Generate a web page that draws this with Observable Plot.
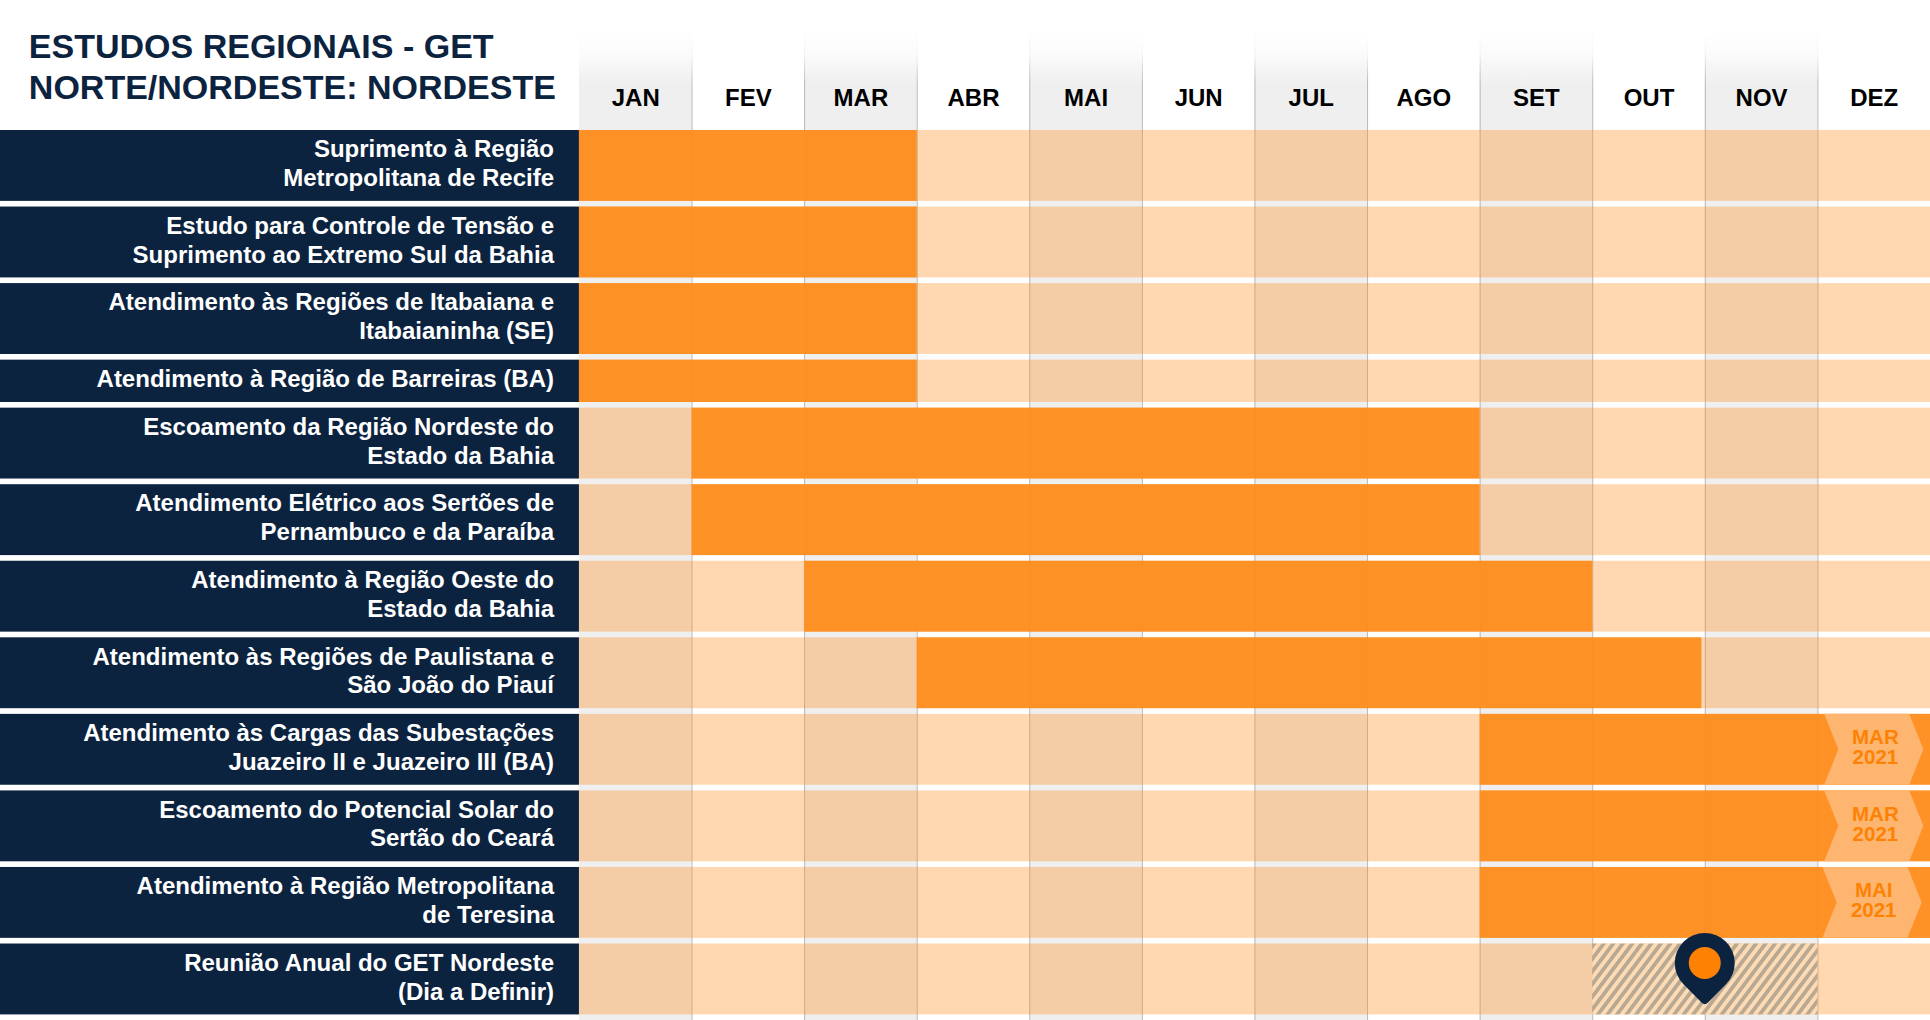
<!DOCTYPE html>
<html lang="pt-BR">
<head>
<meta charset="utf-8">
<title>Estudos Regionais - GET Norte/Nordeste: Nordeste</title>
<style>
html,body{margin:0;padding:0;background:#fff;overflow:hidden}
svg{display:block}
</style>
<script src="https://cdn.jsdelivr.net/npm/d3@7"></script>
<script src="https://cdn.jsdelivr.net/npm/@observablehq/plot@0.6"></script>
</head>
<body>
<div id="chart"></div>
<script>
const titleLines = "ESTUDOS REGIONAIS - GET\nNORTE/NORDESTE: NORDESTE";
const months = ["JAN","FEV","MAR","ABR","MAI","JUN","JUL","AGO","SET","OUT","NOV","DEZ"];
const rowLabels = [
  "Suprimento à Região\nMetropolitana de Recife",
  "Estudo para Controle de Tensão e\nSuprimento ao Extremo Sul da Bahia",
  "Atendimento às Regiões de Itabaiana e\nItabaianinha (SE)",
  "Atendimento à Região de Barreiras (BA)",
  "Escoamento da Região Nordeste do\nEstado da Bahia",
  "Atendimento Elétrico aos Sertões de\nPernambuco e da Paraíba",
  "Atendimento à Região Oeste do\nEstado da Bahia",
  "Atendimento às Regiões de Paulistana e\nSão João do Piauí",
  "Atendimento às Cargas das Subestações\nJuazeiro II e Juazeiro III (BA)",
  "Escoamento do Potencial Solar do\nSertão do Ceará",
  "Atendimento à Região Metropolitana\nde Teresina",
  "Reunião Anual do GET Nordeste\n(Dia a Definir)"
];
// row thickness, in two-line-row units
const rowSpans = [1,1,1,0.627,1,1,1,1,1,1,1,1];
// study periods, in months from the start of January
const barRows   = [0,1,2,3,4,5,6,7,8,9,10];
const barStarts = [0,0,0,0,1,1,2,3,8,8,8];
const barEnds   = [3,3,3,3,8,8,9,9.97,12,12,12];
// continuation flags (chevrons) running into 2021
const flagRows   = [8,9,10];
const flagStarts = [11.06,11.06,11.045];
const flagLabels = ["MAR\n2021","MAR\n2021","MAI\n2021"];
// annual meeting: window and pin
const meetingRow = 11, meetingStart = 9, meetingEnd = 11, meetingPin = 9.995;

const NAVY="#0c2340", ORANGE="#fe8c1a", DEEP="#fd8204", FLAG="#fdb570", GREY="#efefef";
const GAP = 0.074, NOTCH = 0.126, FLAG_W = 0.755;
const tops = [0, ...d3.cumsum(rowSpans)];
const rows = rowLabels.map((label,i)=>({label, i, top:tops[i], bottom:tops[i]+rowSpans[i]-GAP, mid:tops[i]+(rowSpans[i]-GAP)/2}));
const bars = barRows.map((r,i)=>({start:barStarts[i], end:barEnds[i], top:rows[r].top, bottom:rows[r].bottom}));
const flagPts = flagRows.flatMap((r,i)=>{
  const s=flagStarts[i], R=rows[r];
  return [
    {z:r, y:R.top,    x1:s,       x2:s+FLAG_W},
    {z:r, y:R.mid,    x1:s+NOTCH, x2:s+FLAG_W+NOTCH},
    {z:r, y:R.bottom, x1:s,       x2:s+FLAG_W}
  ];
});
const flagText = flagRows.map((r,i)=>({label:flagLabels[i], x:flagStarts[i]+NOTCH/2+FLAG_W/2+0.01, y:rows[r].mid}));
const monthData = months.map((m,i)=>({m,i}));
const HEADER_Y = -0.418;

const pinSymbol = {
  draw(ctx, size){
    const r = Math.sqrt(size/Math.PI);
    ctx.arc(0,0,r,Math.PI*0.75,Math.PI*2.25);
    ctx.lineTo(r*0.1,r*1.33);
    ctx.quadraticCurveTo(0,r*1.42,-r*0.1,r*1.33);
    ctx.closePath();
  }
};

const defs = () => {
  const ns="http://www.w3.org/2000/svg";
  const d=document.createElementNS(ns,"defs");
  d.innerHTML=`
  <linearGradient id="bandFade" gradientUnits="userSpaceOnUse" x1="0" x2="0" y1="30" y2="84">
    <stop offset="0" stop-color="${GREY}" stop-opacity="0"/><stop offset="0.45" stop-color="${GREY}" stop-opacity="0.25"/><stop offset="1" stop-color="${GREY}"/>
  </linearGradient>
  <linearGradient id="ruleFade" gradientUnits="userSpaceOnUse" x1="0" x2="0" y1="30" y2="84">
    <stop offset="0" stop-color="#b8b8b8" stop-opacity="0"/><stop offset="0.45" stop-color="#b8b8b8" stop-opacity="0.15"/><stop offset="1" stop-color="#b8b8b8"/>
  </linearGradient>
  <pattern id="hatch" patternUnits="userSpaceOnUse" width="7.6" height="7.6" patternTransform="rotate(37)">
    <rect width="7.6" height="7.6" fill="#fddbb5"/><rect width="3.8" height="7.6" fill="#b9a992"/>
  </pattern>`;
  return d;
};

const chart = Plot.plot({
  width:1930, height:1020,
  margin:0,
  style:{background:"#fff", fontFamily:"'Liberation Sans', Arial, sans-serif"},
  x:{domain:[-5.142,12], range:[0,1930], axis:null},
  y:{domain:[-1.698,11.626], range:[0,1020], axis:null},
  marks:[
    defs,
    // alternating month bands
    Plot.rectY(monthData.filter(d=>d.i%2===0),{x1:d=>d.i, x2:d=>d.i+1, y1:-1.698, y2:11.626, fill:"url(#bandFade)"}),
    Plot.ruleX(d3.range(1,13),{x:d=>d, y1:-1.698, y2:11.626, stroke:"url(#ruleFade)", strokeWidth:1}),
    // row backgrounds
    Plot.rectY(rows,{x1:0, x2:12, y1:"top", y2:"bottom", fill:"#ff9020", fillOpacity:0.35}),
    // navy label panel
    Plot.rectY(rows,{x1:-5.142, x2:0, y1:"top", y2:"bottom", fill:NAVY}),
    // studies
    Plot.rectY(bars,{x1:"start", x2:"end", y1:"top", y2:"bottom", fill:ORANGE, fillOpacity:0.92}),
    // 2021 flags
    Plot.areaX(flagPts,{y:"y", x1:"x1", x2:"x2", z:"z", fill:FLAG, curve:"linear"}),
    Plot.text(flagText,{x:"x", y:"y", text:"label", fill:DEEP, fontSize:20.5, fontWeight:700, lineHeight:0.96, dy:-2, textAnchor:"middle"}),
    // annual meeting
    Plot.rectY([rows[meetingRow]],{x1:meetingStart, x2:meetingEnd, y1:"top", y2:"bottom", fill:"url(#hatch)"}),
    Plot.dot([rows[meetingRow]],{x:()=>meetingPin, y:"mid", r:30, dy:-16.5, symbol:pinSymbol, fill:NAVY, stroke:"none"}),
    Plot.dot([rows[meetingRow]],{x:()=>meetingPin, y:"mid", r:16, dy:-16.5, fill:DEEP, stroke:"none"}),
    // text
    Plot.text(rows,{x:-0.226, y:"mid", text:"label", fill:"#fff", fontSize:24, fontWeight:700, lineHeight:1.2, dy:-3.5, textAnchor:"end"}),
    Plot.text(monthData,{x:d=>d.i+0.5, y:HEADER_Y, text:"m", fill:"#000", fontSize:24, fontWeight:700, textAnchor:"middle"}),
    Plot.text([titleLines],{x:-4.89, y:-0.845, text:d=>d, fill:NAVY, fontSize:34, fontWeight:700, lineHeight:1.2, textAnchor:"start"})
  ]
});
document.getElementById("chart").append(chart);
</script>
</body>
</html>
